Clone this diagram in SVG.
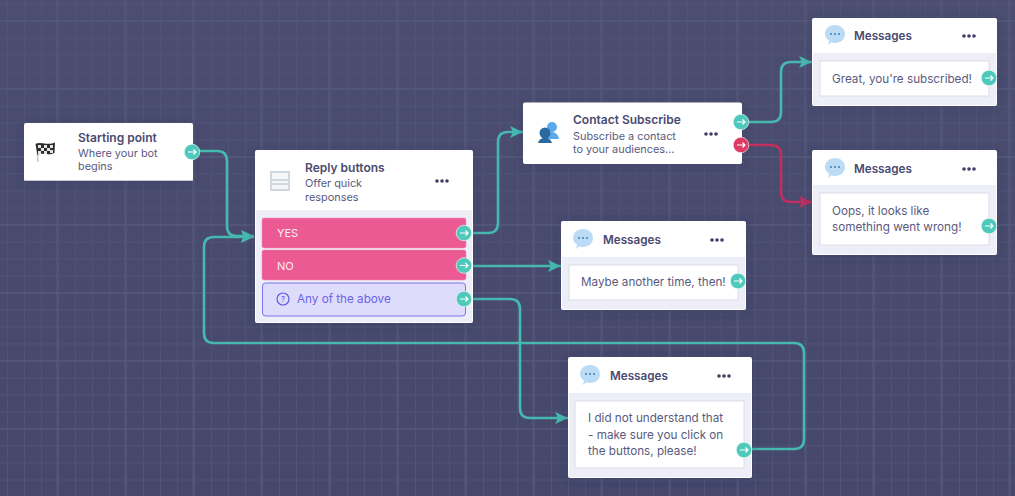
<svg xmlns="http://www.w3.org/2000/svg" width="1015" height="496" viewBox="0 0 1015 496">
<style>
text{font-family:"Inter","Noto Sans",sans-serif;fill:#5a5a80;font-size:10.9px}
.t{font-weight:600;fill:#4a4a72;font-size:12px}
.m{font-size:11.7px}
.h{font-weight:600;fill:#4a4a72;font-size:11.7px}
.c{fill:none;stroke:#46b8b0;stroke-width:2.6}
.r{stroke:#bf2f60}
.card{fill:#fff;filter:url(#s)}
.body{fill:#eeeef8}
.inner{fill:#fff;stroke:#dcdce8;stroke-width:1}
.pink{fill:#ec5a94;stroke:#f08ab0;stroke-width:.5}
.w{fill:#fdeef4;font-size:11px}
.a{fill:none;stroke:#fff;stroke-width:1.2}
</style>
<defs>
<pattern id="g" width="17" height="17" patternUnits="userSpaceOnUse" x="7" y="3.5"><path d="M.5 0V17M0 .5H17" fill="none" stroke="#505376" stroke-width="1"/></pattern>
<pattern id="G" width="68" height="68" patternUnits="userSpaceOnUse" x="56.5" y="20.5"><path d="M.5 0V68M0 .5H68" fill="none" stroke="#585b7d" stroke-width="1.2"/></pattern>
<linearGradient id="bg" x1="0" y1="0" x2="0" y2="1"><stop offset="0" stop-color="#4b4e71"/><stop offset="1" stop-color="#45476b"/></linearGradient>
<filter id="s" x="-10%" y="-10%" width="120%" height="130%"><feDropShadow dx="0" dy="2" stdDeviation="5" flood-color="#33355a" flood-opacity=".3"/></filter>
<marker id="ag" markerWidth="14" markerHeight="12" refX="13" refY="6" orient="auto" markerUnits="userSpaceOnUse"><path d="M0 0L13 6L0 12L3 6Z" fill="#46b8b0"/></marker>
<marker id="ar" markerWidth="14" markerHeight="12" refX="13" refY="6" orient="auto" markerUnits="userSpaceOnUse"><path d="M0 0L13 6L0 12L3 6Z" fill="#bf2f60"/></marker>
<g id="port"><circle r="7.800" fill="#4fc9bb" stroke="#fff" stroke-width=".6"/><path class="a" d="M-4 0H4M1.500-2.500L4 0L1.500 2.500"/></g>
<g id="portr"><circle r="7.800" fill="#de3a63" stroke="#fff" stroke-width=".6"/><path class="a" d="M-4 0H4M1.500-2.500L4 0L1.500 2.500"/></g>
<g id="dots" fill="#3d3d66"><circle cx="-5" r="1.800"/><circle r="1.800"/><circle cx="5" r="1.800"/></g>
<g id="bubble"><path d="M0-10C6-10 10-6 10-1C10 4 6 8 0 8C-2 8-3 7.500-4 7.500L-7 10L-6 5.500C-8.500 4-10 2-10-1C-10-6-6-10 0-10Z" fill="#bcdcf5"/><g fill="#3f7fb8"><circle cx="-4" cy="-1" r="1"/><circle cy="-1" r="1"/><circle cx="4" cy="-1" r="1"/></g></g>
</defs>
<rect width="1015" height="496" fill="url(#bg)"/>
<rect width="1015" height="496" fill="url(#g)"/>
<rect width="1015" height="496" fill="url(#G)"/>

<g id="connectors">
<path class="c" d="M198 151H217Q227 151 227 161V226Q227 236 237 236H254" marker-end="url(#ag)"/>
<path class="c" d="M470 233H488Q498 233 498 223V142Q498 132 508 132H523" marker-end="url(#ag)"/>
<path class="c" d="M470 266H561" marker-end="url(#ag)"/>
<path class="c" d="M470 299H510Q520 299 520 309V408Q520 418 530 418H568" marker-end="url(#ag)"/>
<path class="c" d="M747 122H771Q781 122 781 112V72Q781 62 791 62H812" marker-end="url(#ag)"/>
<path class="c r" d="M747 145H771Q781 145 781 155V192Q781 202 791 202H812" marker-end="url(#ar)"/>
<path class="c" d="M750 449H794Q804 449 804 439V353Q804 343 794 343H214Q204 343 204 333V247Q204 237 214 237H254" marker-end="url(#ag)"/>
</g>

<g id="start">
<rect class="card" x="24" y="123" width="169" height="58" rx="2"/>
<path d="M24 180.500H193" stroke="#c9c9d6" stroke-width="1"/>
<path d="M36.500 143L38 162" stroke="#c4c4c4" stroke-width="1.300"/>
<path d="M35.500 144C41 141 48 146 55 142.500L54.500 153C48 156 43 152 37.500 155Z" fill="#2c2c2c"/>
<g fill="#e4e4e4"><rect x="38" y="145" width="3" height="3"/><rect x="44" y="145" width="3" height="3"/><rect x="50" y="145" width="3" height="3"/><rect x="41" y="148" width="3" height="3"/><rect x="47" y="148" width="3" height="3"/><rect x="38" y="151" width="3" height="3"/><rect x="44" y="151" width="3" height="3"/><rect x="50" y="150" width="3" height="3"/></g>
<text class="t" x="78" y="142">Starting point</text>
<text x="78" y="157">Where your bot</text>
<text x="78" y="170">begins</text>
<use href="#port" x="192" y="152"/>
</g>

<g id="reply">
<rect class="card" x="255" y="150" width="218" height="173" rx="2"/>
<rect class="body" x="256" y="210" width="216" height="112"/>
<rect x="270" y="171" width="20" height="20" fill="#cfd8e0"/>
<path d="M272 173h16v6h-16zM272 181h16v2h-16zM272 185h16v4h-16z" fill="#f4f6f8"/>
<text class="t" x="305" y="172">Reply buttons</text>
<text x="305" y="187">Offer quick</text>
<text x="305" y="201">responses</text>
<use href="#dots" x="442" y="181"/>
<rect class="pink" x="262" y="218" width="204" height="30" rx="2"/>
<text class="w" x="277" y="237">YES</text>
<rect class="pink" x="262" y="250" width="204" height="30" rx="2"/>
<text class="w" x="277" y="270">NO</text>
<rect x="262.500" y="283" width="203" height="33" rx="3" fill="#dedcfb" stroke="#7a74ee"/>
<circle cx="283" cy="299" r="6" fill="none" stroke="#5f58e6" stroke-width="1.200"/>
<text x="283" y="302" text-anchor="middle" style="fill:#5f58e6;font-size:8px">?</text>
<text x="297" y="303" style="fill:#6a64e8;font-size:11.700px">Any of the above</text>
<use href="#port" x="464" y="233"/>
<use href="#port" x="464" y="265.500"/>
<use href="#port" x="464" y="299"/>
</g>

<g id="contact">
<rect class="card" x="523" y="102.500" width="219" height="61.500" rx="2"/>
<circle cx="552" cy="127" r="5" fill="#5aa9ec"/><path d="M545 139C546 133 550 132 552 132C555 132 558 134 559 139Z" fill="#5aa9ec"/>
<circle cx="545" cy="133" r="5.500" fill="#2a6aa0"/><path d="M538 143C539 139 542 138 545 138C549 138 551 140 552 143Z" fill="#2a6aa0"/>
<text class="t" x="573" y="124">Contact Subscribe</text>
<text x="573" y="140">Subscribe a contact</text>
<text x="573" y="153">to your audiences...</text>
<use href="#dots" x="711" y="134"/>
<use href="#port" x="741" y="122"/>
<use href="#portr" x="741" y="145"/>
</g>

<g id="msg1">
<rect class="card" x="812" y="18" width="185" height="88" rx="2"/>
<rect class="body" x="813" y="53" width="183" height="52"/>
<use href="#bubble" x="835" y="35"/>
<text class="h" x="854" y="40">Messages</text>
<use href="#dots" x="969" y="36"/>
<rect class="inner" x="820" y="61" width="169" height="35"/>
<text class="m" x="832" y="83">Great, you're subscribed!</text>
<use href="#port" x="989" y="78"/>
</g>

<g id="msg2">
<rect class="card" x="812" y="150" width="185" height="105" rx="2"/>
<rect class="body" x="813" y="185" width="183" height="69"/>
<use href="#bubble" x="835" y="168"/>
<text class="h" x="854" y="173">Messages</text>
<use href="#dots" x="969" y="169"/>
<rect class="inner" x="820" y="193" width="169" height="52"/>
<text class="m" x="832" y="215">Oops, it looks like</text>
<text class="m" x="832" y="231">something went wrong!</text>
<use href="#port" x="989" y="226"/>
</g>

<g id="msg3">
<rect class="card" x="561" y="221" width="185" height="89" rx="2"/>
<rect class="body" x="562" y="257" width="183" height="52"/>
<use href="#bubble" x="583" y="239"/>
<text class="h" x="603" y="244">Messages</text>
<use href="#dots" x="717" y="240"/>
<rect class="inner" x="569" y="265" width="169" height="35"/>
<text class="m" x="581" y="286">Maybe another time, then!</text>
<use href="#port" x="738" y="281"/>
</g>

<g id="msg4">
<rect class="card" x="568" y="357" width="184" height="121" rx="2"/>
<rect class="body" x="569" y="393" width="182" height="84"/>
<use href="#bubble" x="590" y="375"/>
<text class="h" x="610" y="380">Messages</text>
<use href="#dots" x="724" y="376"/>
<rect class="inner" x="575" y="401" width="169" height="67"/>
<text class="m" x="588" y="422">I did not understand that</text>
<text class="m" x="588" y="439">- make sure you click on</text>
<text class="m" x="588" y="455">the buttons, please!</text>
<use href="#port" x="744" y="450"/>
</g>
</svg>
